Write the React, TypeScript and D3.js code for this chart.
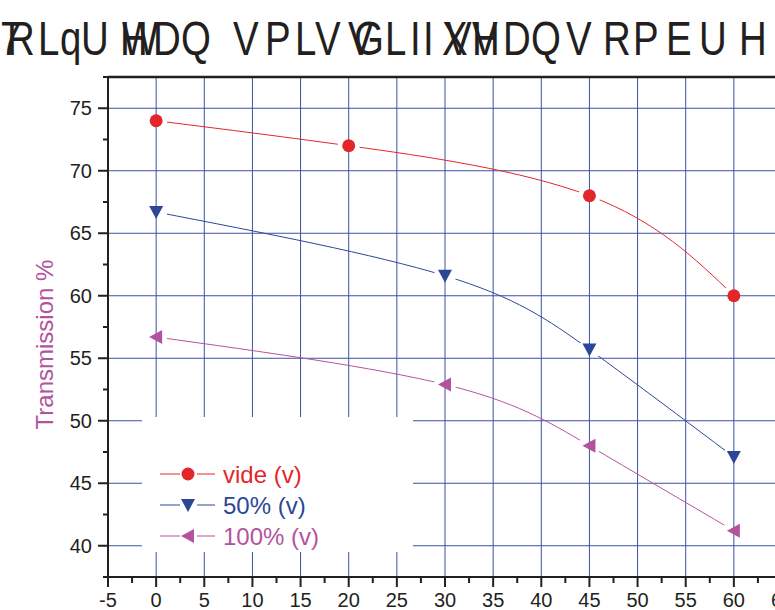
import React from "react";
import * as d3 from "d3";

// series
const videX = [0, 20, 45, 60];
const videY = [74, 72, 68, 60];
const halfX = [0, 30, 45, 60];
const halfY = [66.7, 61.6, 55.7, 47.1];
const fullX = [0, 30, 45, 60];
const fullY = [56.7, 52.9, 48.0, 41.2];
const seriesNames = ["vide (v)", "50% (v)", "100% (v)"];

const xTicks = d3.range(-5, 66, 5);
const xMinor = d3.range(-2.5, 66, 5);
const yTicks = d3.range(40, 76, 5);
const yMinor = d3.range(37.5, 78, 2.5).filter((v) => v % 5 !== 0);
const yLabel = "Transmission %";

// garbled title glyphs as drawn (char, left x)
const titleGlyphs: [string, number][] = [
  ["7", 0], ["R", 7], ["L", 38], ["q", 60], ["U", 81], ["H", 120], ["W", 122],
  ["D", 153], ["Q", 181], ["V", 233], ["P", 265], ["L", 295], ["V", 315],
  ["V", 348], ["G", 354], ["L", 385], ["I", 410], ["I", 423], ["X", 442],
  ["V", 446], ["V", 472], ["H", 472], ["D", 503], ["Q", 531], ["V", 566],
  ["R", 603], ["P", 633], ["E", 666], ["U", 699], ["H", 739],
];
const titleScale = 0.8;

const colors = ["#e3262a", "#2d4797", "#b4539d"];
const gridColor = "#3d51a5";
const font = "'Liberation Sans', Arial, sans-serif";

const x = d3.scaleLinear().domain([-5, 65]).range([108, 782]);
const y = d3.scaleLinear().domain([37.5, 77.5]).range([577, 77]);

function Marker({ kind, cx, cy, color }: { kind: number; cx: number; cy: number; color: string }) {
  if (kind === 0) return <circle cx={cx} cy={cy} r={6.5} fill={color} />;
  if (kind === 1)
    return <path d={`M${cx - 7},${cy - 6}L${cx + 7},${cy - 6}L${cx},${cy + 7}Z`} fill={color} />;
  return <path d={`M${cx + 6},${cy - 7}L${cx + 6},${cy + 7}L${cx - 7},${cy}Z`} fill={color} />;
}

export default function App() {
  const series = [
    { xs: videX, ys: videY },
    { xs: halfX, ys: halfY },
    { xs: fullX, ys: fullY },
  ];
  const line = d3
    .line<[number, number]>()
    .x((d) => x(d[0]))
    .y((d) => y(d[1]))
    .curve(d3.curveNatural);

  const legendRows = [474, 505, 536];

  return (
    <svg width={775} height={610} style={{ position: "absolute", left: 0, top: 0 }} fontFamily={font}>
      <rect width={775} height={610} fill="#fff" />
      {/* title */}
      <g transform={`scale(${titleScale},1)`} fill="#231f20" fontSize={48}>
        {titleGlyphs.map(([c, gx], i) => (
          <text key={i} x={gx / titleScale} y={55}>{c}</text>
        ))}
      </g>

      {/* grid */}
      <g stroke={gridColor} strokeWidth={1}>
        {xTicks.filter((v) => v > -5).map((v) => (
          <line key={"gx" + v} x1={x(v)} x2={x(v)} y1={y(77.5)} y2={y(37.5)} />
        ))}
        {yTicks.map((v) => (
          <line key={"gy" + v} x1={x(-5)} x2={x(65)} y1={y(v)} y2={y(v)} />
        ))}
      </g>

      {/* legend background */}
      <rect x={142} y={417} width={271} height={135} fill="#fff" />

      {/* curves with gaps around markers */}
      <defs>
        {series.map((s, k) => (
          <mask id={"m" + k} key={k} maskUnits="userSpaceOnUse" x={0} y={0} width={775} height={610}>
            <rect width={775} height={610} fill="#fff" />
            {s.xs.map((v, i) => (
              <circle key={i} cx={x(v)} cy={y(s.ys[i])} r={11} fill="#000" />
            ))}
          </mask>
        ))}
      </defs>
      {series.map((s, k) => (
        <path
          key={"l" + k}
          d={line(s.xs.map((v, i) => [v, s.ys[i]] as [number, number])) || ""}
          fill="none"
          stroke={colors[k]}
          strokeWidth={1}
          mask={`url(#m${k})`}
        />
      ))}
      {series.map((s, k) =>
        s.xs.map((v, i) => (
          <Marker key={k + "-" + i} kind={k} cx={x(v)} cy={y(s.ys[i])} color={colors[k]} />
        ))
      )}

      {/* frame and axes */}
      <g stroke="#231f20" fill="none">
        <line x1={x(-5)} x2={x(65)} y1={y(77.5)} y2={y(77.5)} strokeWidth={2.5} />
        <line x1={x(-5)} x2={x(65)} y1={y(37.5)} y2={y(37.5)} strokeWidth={2} />
        <line x1={x(-5)} x2={x(-5)} y1={y(77.5)} y2={y(37.5)} strokeWidth={2} />
        {xTicks.map((v) => (
          <line key={"tx" + v} x1={x(v)} x2={x(v)} y1={y(37.5)} y2={y(37.5) + 10} strokeWidth={2} />
        ))}
        {xMinor.map((v) => (
          <line key={"mx" + v} x1={x(v)} x2={x(v)} y1={y(37.5)} y2={y(37.5) + 6} strokeWidth={2} />
        ))}
        {yTicks.map((v) => (
          <line key={"ty" + v} x1={x(-5) - 10} x2={x(-5)} y1={y(v)} y2={y(v)} strokeWidth={2} />
        ))}
        {yMinor.map((v) => (
          <line key={"my" + v} x1={x(-5) - 5} x2={x(-5)} y1={y(v)} y2={y(v)} strokeWidth={2} />
        ))}
      </g>
      <g fill="#231f20" fontSize={20}>
        {xTicks.map((v) => (
          <text key={"lx" + v} x={x(v)} y={607} textAnchor="middle">{v}</text>
        ))}
        {yTicks.map((v) => (
          <text key={"ly" + v} x={92} y={y(v) + 7} textAnchor="end">{v}</text>
        ))}
      </g>
      <text
        transform={`translate(53,344.5) rotate(-90)`}
        textAnchor="middle"
        fontSize={24}
        fill={colors[2]}
      >
        {yLabel}
      </text>

      {/* legend */}
      {seriesNames.map((name, k) => (
        <g key={"lg" + k}>
          <line x1={160} x2={180} y1={legendRows[k]} y2={legendRows[k]} stroke={colors[k]} strokeWidth={1} />
          <line x1={197} x2={215} y1={legendRows[k]} y2={legendRows[k]} stroke={colors[k]} strokeWidth={1} />
          <Marker kind={k} cx={188} cy={legendRows[k]} color={colors[k]} />
          <text x={223} y={legendRows[k] + 9} fontSize={24} fill={colors[k]}>{name}</text>
        </g>
      ))}
    </svg>
  );
}
